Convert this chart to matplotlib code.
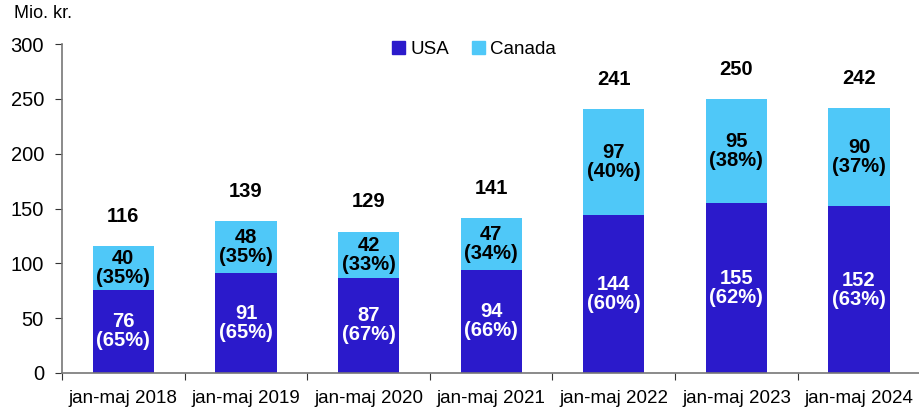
import numpy as np
import matplotlib.pyplot as plt
from matplotlib.patches import Patch

plt.rcParams['font.family'] = ['Liberation Sans', 'DejaVu Sans']

categories = ['jan-maj 2018', 'jan-maj 2019', 'jan-maj 2020', 'jan-maj 2021',
              'jan-maj 2022', 'jan-maj 2023', 'jan-maj 2024']
usa = [76, 91, 87, 94, 144, 155, 152]
canada = [40, 48, 42, 47, 97, 95, 90]
totals = [116, 139, 129, 141, 241, 250, 242]
usa_pct = [65, 65, 67, 66, 60, 62, 63]
canada_pct = [35, 35, 33, 34, 40, 38, 37]

c_usa = '#2B1ACB'
c_can = '#4FC8F8'

fig = plt.figure(figsize=(9.2, 4.08), dpi=100)
ax = fig.add_axes([0.0674, 0.0858, 0.933, 0.806])

x = np.arange(len(categories))
w = 0.5
ax.bar(x, usa, w, color=c_usa)
ax.bar(x, canada, w, bottom=usa, color=c_can)

for i in range(len(x)):
    ax.text(x[i], usa[i] / 2, '%d\n(%d%%)' % (usa[i], usa_pct[i]), ha='center', va='center',
            color='white', fontsize=14.5, fontweight='bold', linespacing=1.0)
    ax.text(x[i], usa[i] + canada[i] / 2, '%d\n(%d%%)' % (canada[i], canada_pct[i]), ha='center',
            va='center', color='black', fontsize=14.5, fontweight='bold', linespacing=1.0)
    ax.text(x[i], totals[i] + 27, '%d' % totals[i], ha='center', va='center',
            color='black', fontsize=14.5, fontweight='bold')

ax.set_xlim(-0.5, len(x) - 0.5)
ax.set_ylim(0, 300)
ax.set_yticks(range(0, 301, 50))
ax.tick_params(axis='y', labelsize=14.5, length=5, color='#333333', pad=8)

ax.set_xticks(np.arange(-0.5, len(x), 1.0))
ax.set_xticklabels([])
ax.set_xticks(x, minor=True)
ax.set_xticklabels(categories, minor=True)
ax.tick_params(axis='x', which='major', length=5, color='#333333')
ax.tick_params(axis='x', which='minor', length=0, labelsize=13.5, pad=12)

for s in ['top', 'right']:
    ax.spines[s].set_visible(False)
for s in ['left', 'bottom']:
    ax.spines[s].set_color('#777777')
    ax.spines[s].set_linewidth(1.2)

handles = [Patch(color=c_usa, label='USA'), Patch(color=c_can, label='Canada')]
ax.legend(handles=handles, loc='upper center', bbox_to_anchor=(0.48, 1.06), ncol=2,
          frameon=False, fontsize=13.5, handlelength=0.7, handleheight=0.7,
          handletextpad=0.3, columnspacing=1.2)

fig.text(0.015, 0.945, 'Mio. kr.', fontsize=13, ha='left', va='bottom')

fig.savefig('out.png', dpi=100)
